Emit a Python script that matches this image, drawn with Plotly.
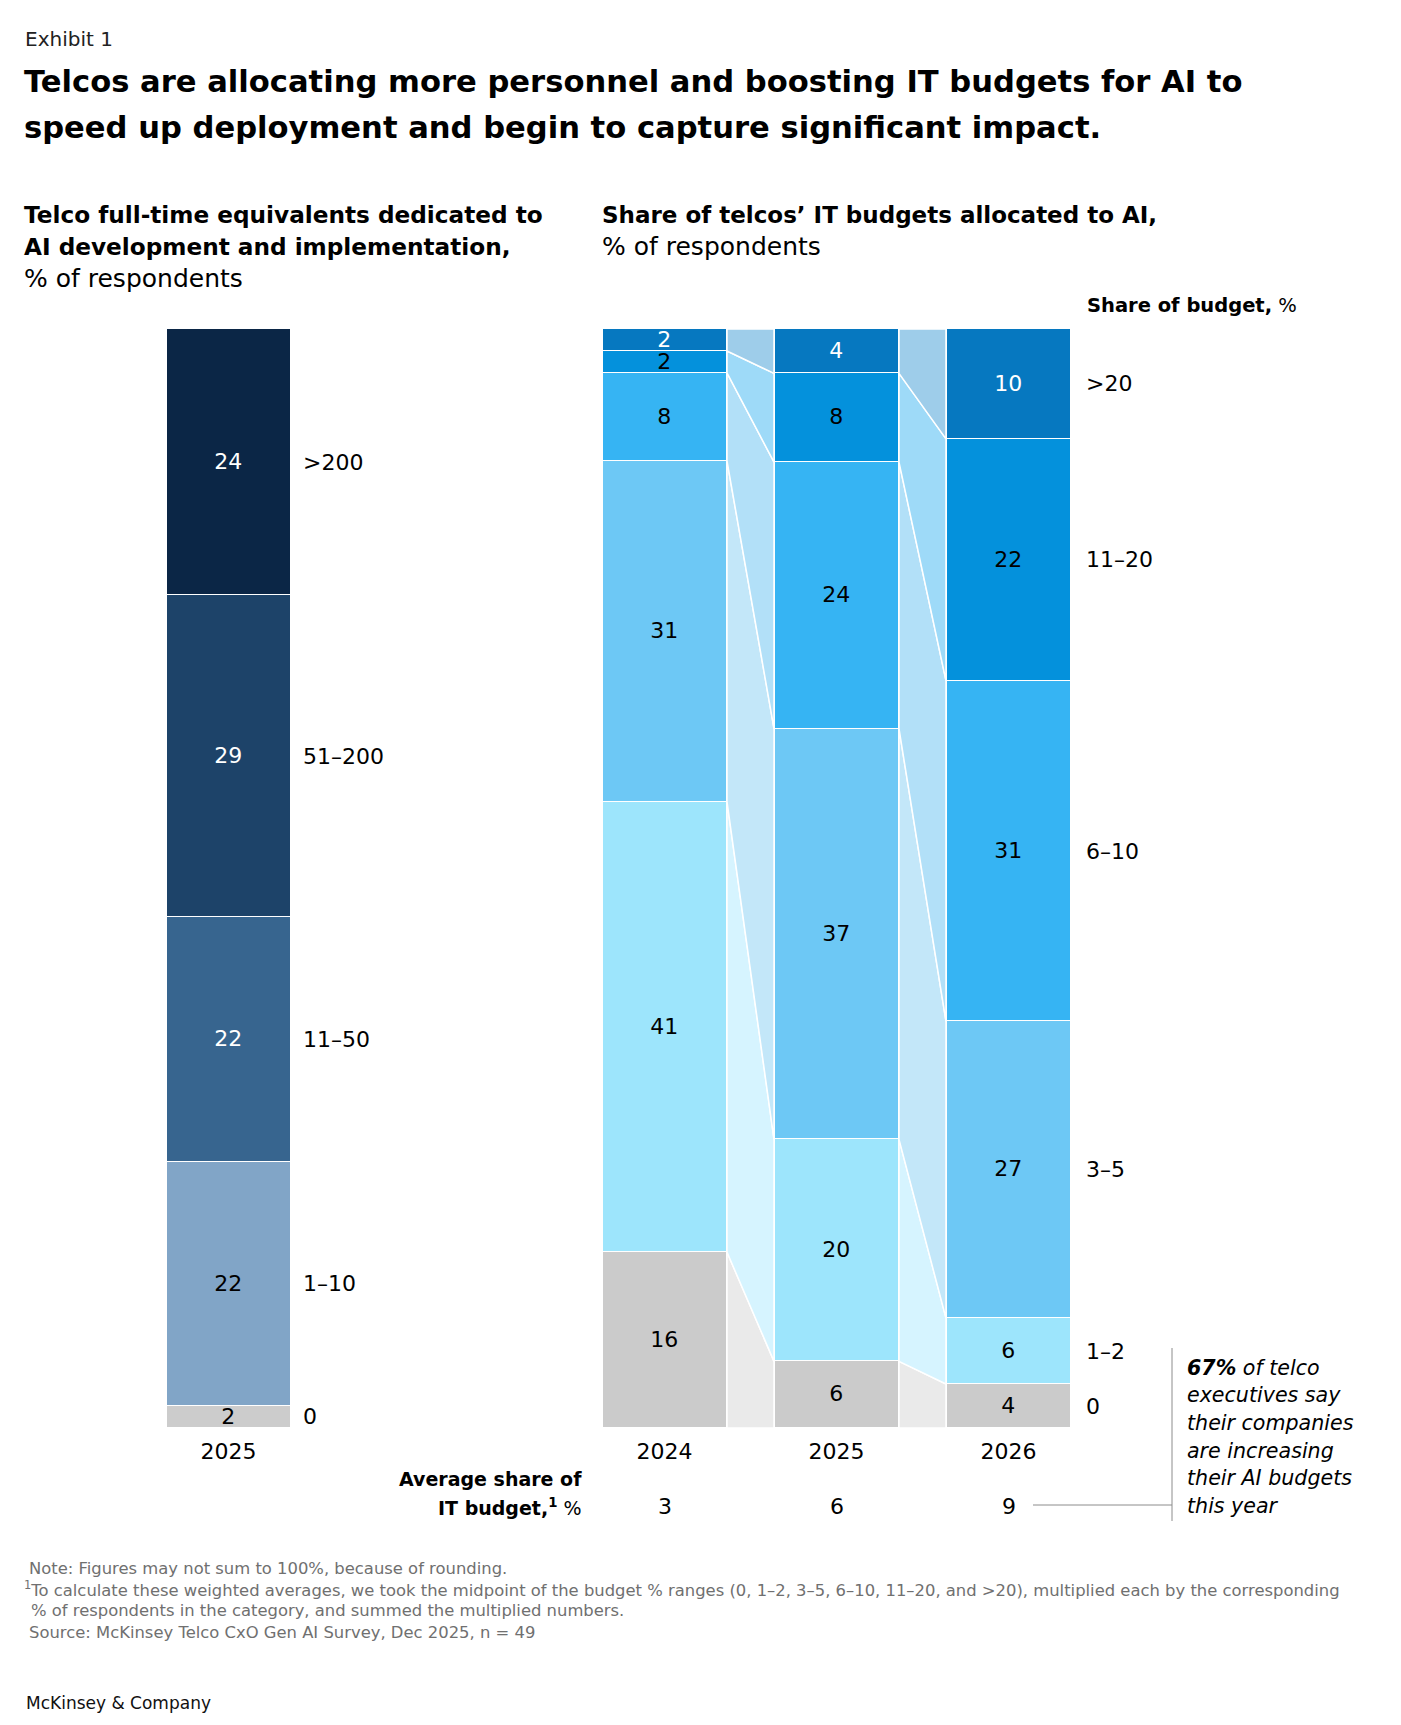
import plotly.graph_objects as go
import numpy as np

# ---------------------------------------------------------
# data
# ---------------------------------------------------------
fte_labels = ["0", "1–10", "11–50", "51–200", ">200"]
fte_values = [2, 22, 22, 29, 24]
fte_year = ["2025"]

budget_labels = ["0", "1–2", "3–5", "6–10", "11–20", ">20"]
years = ["2024", "2025", "2026"]
budget_2024 = [16, 41, 31, 8, 2, 2]
budget_2025 = [6, 20, 37, 24, 8, 4]
budget_2026 = [4, 6, 27, 31, 22, 10]
avg_share = [3, 6, 9]

# ---------------------------------------------------------
# style
# ---------------------------------------------------------
W, H = 1401, 1725
OFF = 8  # page body margin
REG = "DejaVu Sans"
BOLD = "DejaVu Sans"
FTE_COLORS = ["#CCCCCC", "#81A5C7", "#37658F", "#1D4369", "#0B2646"]
FTE_TEXT = ["#000000", "#000000", "#FFFFFF", "#FFFFFF", "#FFFFFF"]
BUD_COLORS = ["#CBCBCB", "#9DE5FC", "#6DC8F5", "#36B4F3", "#0491DC", "#0678C0"]
BUD_TEXT = ["#000000"] * 5 + ["#FFFFFF"]
BAND_COLORS = ["#EAEAEA", "#D6F4FF", "#C3E7F9", "#B2E0F8", "#9EDAF8", "#9ECDEA"]
BW = 125 / 172  # bar width in category units
NUM = 22

Y_TOP, Y_BOT = 329, 1428


def px(x):
    return (x - OFF) / W


def py(y):
    return 1 - (y - OFF) / H


fig = go.Figure()


def text(x, base, s, size, family=REG, color="#000000", anchor="left", **kw):
    # place a single text line by its baseline (page pixels)
    fig.add_annotation(x=px(x), y=py(base - 0.35 * size), xref="paper", yref="paper",
                       text=s, showarrow=False, xanchor=anchor, yanchor="middle",
                       font=dict(family=family, size=size, color=color), **kw)


# ---------------------------------------------------------
# left chart: FTE
# ---------------------------------------------------------
fte_norm = np.array(fte_values) / sum(fte_values) * 100
for k, lab in enumerate(fte_labels):
    fig.add_trace(go.Bar(
        x=[0], y=[fte_norm[k]], width=BW, xaxis="x", yaxis="y",
        marker=dict(color=FTE_COLORS[k], line=dict(color="white", width=1.5)),
        text=[str(fte_values[k])], textposition="inside", insidetextanchor="middle",
        textangle=0, constraintext="none",
        textfont=dict(family=REG, size=NUM, color=FTE_TEXT[k]),
        showlegend=False, hoverinfo="skip"))
fte_cum = np.concatenate([[0], np.cumsum(fte_norm)])
for k, lab in enumerate(fte_labels):
    fig.add_annotation(x=BW / 2, y=(fte_cum[k] + fte_cum[k + 1]) / 2, xref="x", yref="y",
                       text=lab, showarrow=False, xanchor="left", yanchor="middle", xshift=10,
                       font=dict(family=REG, size=NUM, color="#000000"))

# ---------------------------------------------------------
# right chart: budget share
# ---------------------------------------------------------
bud = np.array([budget_2024, budget_2025, budget_2026], dtype=float)
bud_norm = bud / bud.sum(axis=1, keepdims=True) * 100
bud_cum = np.concatenate([np.zeros((3, 1)), np.cumsum(bud_norm, axis=1)], axis=1)

# connecting bands
for g in range(len(years) - 1):
    xr, xl = g + BW / 2, g + 1 - BW / 2
    for k in range(len(budget_labels)):
        fig.add_trace(go.Scatter(
            x=[xr, xr, xl, xl, xr],
            y=[bud_cum[g, k], bud_cum[g, k + 1], bud_cum[g + 1, k + 1], bud_cum[g + 1, k], bud_cum[g, k]],
            xaxis="x2", yaxis="y2", mode="lines", fill="toself",
            fillcolor=BAND_COLORS[k], line=dict(color="white", width=1.5),
            showlegend=False, hoverinfo="skip"))

for k, lab in enumerate(budget_labels):
    fig.add_trace(go.Bar(
        x=[0, 1, 2], y=bud_norm[:, k], width=BW, xaxis="x2", yaxis="y2",
        marker=dict(color=BUD_COLORS[k], line=dict(color="white", width=1.5)),
        text=[str(int(v)) for v in bud[:, k]], textposition="inside", insidetextanchor="middle",
        textangle=0, constraintext="none",
        textfont=dict(family=REG, size=NUM, color=BUD_TEXT[k]),
        showlegend=False, hoverinfo="skip"))
    fig.add_annotation(x=2 + BW / 2, y=(bud_cum[2, k] + bud_cum[2, k + 1]) / 2, xref="x2", yref="y2",
                       text=lab, showarrow=False, xanchor="left", yanchor="middle", xshift=13,
                       font=dict(family=REG, size=NUM, color="#000000"))

# average share row
for i, v in enumerate(avg_share):
    fig.add_annotation(x=i, y=py(1514 - 0.35 * NUM), xref="x2", yref="paper",
                       text=str(v), showarrow=False, xanchor="center", yanchor="middle",
                       font=dict(family=REG, size=NUM, color="#000000"))

axis_common = dict(showgrid=False, zeroline=False, showline=False, ticks="", ticklabelstandoff=8,
                   tickfont=dict(family=REG, size=NUM, color="#000000"))
fig.update_layout(
    width=W, height=H, margin=dict(l=0, r=0, t=0, b=0),
    paper_bgcolor="white", plot_bgcolor="white", barmode="stack", bargap=0,
    xaxis=dict(domain=[px(142.5), px(314.5)], range=[-0.5, 0.5], tickvals=[0], ticktext=fte_year,
               anchor="y", **axis_common),
    yaxis=dict(domain=[py(Y_BOT), py(Y_TOP)], range=[0, 100], visible=False, anchor="x"),
    xaxis2=dict(domain=[px(578.5), px(1094.5)], range=[-0.5, 2.5], tickvals=[0, 1, 2], ticktext=years,
                anchor="y2", **axis_common),
    yaxis2=dict(domain=[py(Y_BOT), py(Y_TOP)], range=[0, 100], visible=False, anchor="x2"),
)

# ---------------------------------------------------------
# texts
# ---------------------------------------------------------
text(23, 46, "Exhibit 1", 20, color="#222222")
text(22, 92, "<b>Telcos are allocating more personnel and boosting IT budgets for AI to</b>", 30.6, BOLD)
text(22, 138, "<b>speed up deployment and begin to capture significant impact.</b>", 30.6, BOLD)

text(22, 223, "<b>Telco full-time equivalents dedicated to</b>", 23.2, BOLD)
text(22, 255, "<b>AI development and implementation,</b>", 23.2, BOLD)
text(22, 287, "% of respondents", 25)

text(600, 223, "<b>Share of telcos’ IT budgets allocated to AI,</b>", 23, BOLD)
text(600, 255, "% of respondents", 25)

text(1085, 312, "<b>Share of budget,</b> %", 19.5, BOLD)

text(584, 1486, "<b>Average share of</b>", 19, BOLD, anchor="right")
text(584, 1514, "<b>IT budget,<sup>1</sup></b> %", 19, BOLD, anchor="right")

note_lines = [
    "<b><i>67%</i></b><i> of telco</i>",
    "<i>executives say</i>",
    "<i>their companies</i>",
    "<i>are increasing</i>",
    "<i>their AI budgets</i>",
    "<i>this year</i>",
]
for j, s in enumerate(note_lines):
    text(1185, 1375 + 27.6 * j, s, 20.6)

fig.add_shape(type="line", xref="paper", yref="paper", x0=px(1033), x1=px(1172), y0=py(1505), y1=py(1505),
              line=dict(color="#8C8C8C", width=1))
fig.add_shape(type="line", xref="paper", yref="paper", x0=px(1172), x1=px(1172), y0=py(1348), y1=py(1521),
              line=dict(color="#8C8C8C", width=1))

FOOT = "#707070"
FS = 16.4
text(27, 1574, "Note: Figures may not sum to 100%, because of rounding.", FS, color=FOOT)
text(22, 1595, "<sup>1</sup>To calculate these weighted averages, we took the midpoint of the budget % ranges "
               "(0, 1–2, 3–5, 6–10, 11–20, and >20), multiplied each by the corresponding", FS, color=FOOT)
text(29, 1616, "% of respondents in the category, and summed the multiplied numbers.", FS, color=FOOT)
text(27, 1638, "Source: McKinsey Telco CxO Gen AI Survey, Dec 2025, n = 49", FS, color=FOOT)

text(24, 1709, "McKinsey &amp; Company", 17, color="#111111")

fig.write_html("out.html")
